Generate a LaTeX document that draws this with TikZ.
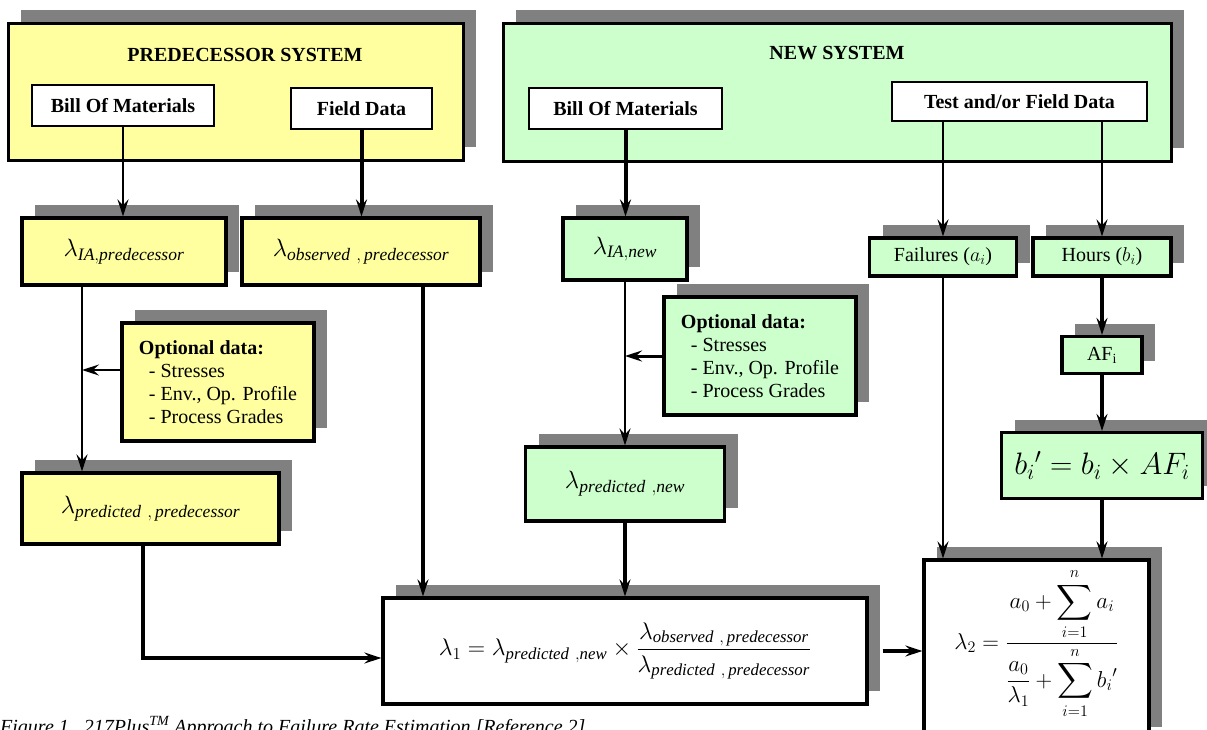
\RequirePackage{fix-cm}
\documentclass[tikz,border=0pt]{standalone}
\usepackage{amsmath}
\usepackage{fontspec}
\setmainfont{Liberation Serif}
\usepackage{tikz}
\usetikzlibrary{arrows.meta,positioning,shadows}
\definecolor{predyellow}{RGB}{255,255,160}
\definecolor{newgreen}{RGB}{204,255,204}
\definecolor{shadowgray}{RGB}{128,128,128}
\newcommand{\optionaldata}{\textbf{Optional data:}\\\hspace*{10pt}- Stresses\\\hspace*{10pt}- Env., Op. Profile\\\hspace*{10pt}- Process Grades}

\begin{document}
\begin{tikzpicture}[x=1pt,y=-1pt,>={Stealth[length=17pt,width=11pt,inset=6pt]},
  every node/.style={font=\fontsize{20}{23}\selectfont,align=center,inner sep=0pt},
  boxshadow/.style={drop shadow={shadow xshift=13pt,shadow yshift=13pt,fill=shadowgray,opacity=1}},
  sysbox/.style={draw,line width=3pt,boxshadow},
  whitebox/.style={draw,line width=1.8pt,fill=white,font=\fontsize{20}{23}\selectfont\bfseries},
  ratebox/.style={draw,line width=3.2pt,boxshadow},
  lambdafont/.style={font=\fontsize{25}{29}\selectfont},
  thinarrow/.style={->,line width=2pt},
  thickarrow/.style={->,line width=4pt}]
  \useasboundingbox (0,0) rectangle (1207,729);

  % predecessor system
  \node[sysbox,fill=predyellow,minimum width=455pt,minimum height=137pt] (predsys) at (235.5,91.5) {};
  \node[font=\fontsize{20}{23}\selectfont\bfseries] (predtitle) at (245,55) {PREDECESSOR SYSTEM};
  \node[whitebox,minimum width=182pt,minimum height=41pt] (predbom) at (123,105.5) {Bill Of Materials};
  \node[whitebox,minimum width=141pt,minimum height=41pt] (predfield) at (361.5,108.5) {Field Data};
  \node[ratebox,lambdafont,fill=predyellow,minimum width=204pt,minimum height=67pt] (predia) at (124,251.5) {$\lambda_{\mathit{IA,predecessor}}$};
  \node[ratebox,lambdafont,fill=predyellow,minimum width=238pt,minimum height=67pt] (predobs) at (361,251.5) {$\lambda_{\mathit{observed\ ,\,predecessor}}$};
  \node[ratebox,fill=predyellow,minimum width=192pt,minimum height=118pt,align=left] (predopt) at (218,382) {\optionaldata};
  \node[ratebox,lambdafont,fill=predyellow,minimum width=257pt,minimum height=71pt] (predpred) at (150.5,508.5) {$\lambda_{\mathit{predicted\ ,\,predecessor}}$};

  % new system
  \node[sysbox,fill=newgreen,minimum width=668pt,minimum height=138pt] (newsys) at (837,92) {};
  \node[font=\fontsize{20}{23}\selectfont\bfseries] (newtitle) at (837,53) {NEW SYSTEM};
  \node[whitebox,minimum width=193pt,minimum height=41pt] (newbom) at (625.5,108.5) {Bill Of Materials};
  \node[whitebox,minimum width=255pt,minimum height=39pt] (newtest) at (1019.5,101.5) {Test and/or Field Data};
  \node[ratebox,lambdafont,fill=newgreen,minimum width=124pt,minimum height=62pt] (newia) at (625,249) {$\lambda_{\mathit{IA,new}}$};
  \node[ratebox,fill=newgreen,minimum width=147pt,minimum height=38pt] (fail) at (943,257) {Failures ($a_i$)};
  \node[ratebox,fill=newgreen,minimum width=138pt,minimum height=38pt] (hours) at (1102,257) {Hours ($b_i$)};
  \node[ratebox,fill=newgreen,minimum width=192pt,minimum height=118pt,align=left] (newopt) at (760,356) {\optionaldata};
  \node[ratebox,lambdafont,fill=newgreen,minimum width=199pt,minimum height=74pt] (newpred) at (625,484) {$\lambda_{\mathit{predicted\ ,new}}$};
  \node[ratebox,fill=newgreen,minimum width=80pt,minimum height=37pt] (af) at (1102,355) {AF\textsubscript{i}};
  \node[ratebox,fill=newgreen,minimum width=201pt,minimum height=66pt,font=\fontsize{31}{35}\selectfont] (bnew) at (1102,465.5) {$b_i{}'=b_i\times AF_i$};

  % estimates
  \node[ratebox,fill=white,minimum width=484pt,minimum height=106pt,font=\fontsize{24}{28}\selectfont] (lam1) at (625,651)
    {$\lambda_1=\lambda_{\mathit{predicted\ ,new}}\times\dfrac{\lambda_{\mathit{observed\ ,\,predecessor}}}{\lambda_{\mathit{predicted\ ,\,predecessor}}}$};
  \node[ratebox,fill=white,minimum width=225pt,minimum height=180pt,font=\fontsize{23}{27}\selectfont] (lam2) at (1036.5,650)
    {$\lambda_2=\dfrac{a_0+\displaystyle\sum_{i=1}^{n}a_i}{\dfrac{a_0}{\lambda_1}+\displaystyle\sum_{i=1}^{n}b_i{}'}$\\[12pt]};

  \node[anchor=base west,font=\fontsize{20}{24}\selectfont\itshape] (caption) at (0,733)
    {Figure 1.\ \ 217Plus\textsuperscript{TM} Approach to Failure Rate Estimation [Reference 2]};

  % predecessor connectors
  \coordinate (predjoin) at (82,370);
  \draw[thinarrow] (predbom.south) -- (predbom.south |- predia.north);
  \draw[thickarrow] (predfield.south) -- (predfield.south |- predobs.north);
  \draw[thinarrow] (predjoin |- predia.south) -- (predjoin |- predpred.north);
  \draw[thinarrow] (predopt.west |- predjoin) -- (predjoin);
  \draw[thickarrow] ([xshift=62pt]predobs.south) -- ([xshift=62pt]predobs.south |- lam1.north);
  \draw[thickarrow] ([xshift=-7.5pt]predpred.south) |- ([yshift=-7pt]lam1.west);

  % new connectors
  \coordinate (newjoin) at (625,356);
  \draw[thickarrow] (newbom.south) -- (newbom.south |- newia.north);
  \draw[thinarrow] (newia) -- (newpred);
  \draw[thickarrow,line width=3pt] (newopt.west) -- (newjoin);
  \draw[thickarrow] (newpred) -- (lam1);
  \draw[thinarrow] (newtest.south -| fail) -- (fail);
  \draw[thinarrow] (newtest.south -| hours) -- (hours);
  \draw[thinarrow] (fail) -- (fail |- lam2.north);
  \draw[thickarrow] (hours) -- (af);
  \draw[thickarrow] (af) -- (bnew);
  \draw[thickarrow] (bnew) -- (bnew |- lam2.north);
  \draw[thickarrow] ([xshift=14pt]lam1.east) -- (lam2.west |- lam1.east);
\end{tikzpicture}
\end{document}
